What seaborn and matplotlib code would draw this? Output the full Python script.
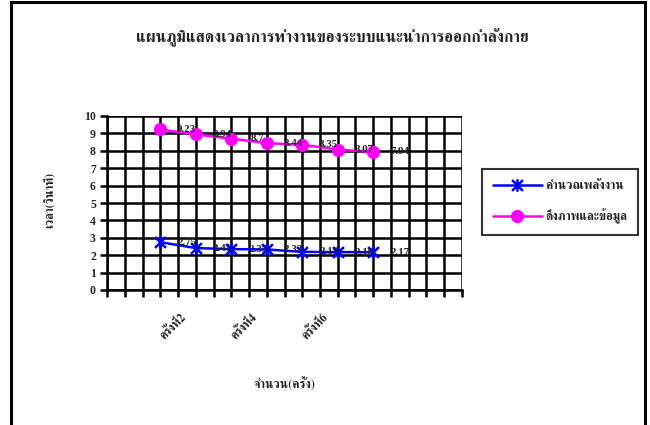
import numpy as np
import pandas as pd
import matplotlib
matplotlib.use("Agg")
import matplotlib.pyplot as plt
import seaborn as sns
from matplotlib import font_manager as fm
from matplotlib.patches import Rectangle
from matplotlib.path import Path

# ---------------- data ----------------
title = "แผนภูมิแสดงเวลาการทำงานของระบบแนะนำการออกกำลังกาย"
x_label = "จำนวน(ครั้ง)"
y_label = "เวลา(วินาที)"
categories = ["", "ครั้งที่1", "ครั้งที่2", "ครั้งที่3", "ครั้งที่4", "ครั้งที่5",
              "ครั้งที่6", "ครั้งที่7", "", ""]
shown_labels = ["ครั้งที่2", "ครั้งที่4", "ครั้งที่6"]
run_index = [1, 2, 3, 4, 5, 6, 7]
series_names = ["คำนวณพลังงาน", "ดึงภาพและข้อมูล"]
calc_energy = [2.75, 2.41, 2.35, 2.33, 2.19, 2.18, 2.17]
fetch_data = [9.23, 8.94, 8.7, 8.44, 8.35, 8.07, 7.94]
y_ticks = [0, 1, 2, 3, 4, 5, 6, 7, 8, 9, 10]

# ---------------- fonts ----------------
def find_thai_fonts():
    names = []
    try:
        from fontTools.ttLib import TTFont
    except Exception:
        return names
    for fe in fm.fontManager.ttflist:
        try:
            f = TTFont(fe.fname, fontNumber=0, lazy=True)
            cmap = f.getBestCmap() or {}
            if 0x0E01 in cmap and fe.name not in names:
                names.append(fe.name)
        except Exception:
            pass
    return names

sns.set_theme(style="white")
thai = find_thai_fonts()
serif_first = [n for n in thai if "Serif" in n] + [n for n in thai if "Serif" not in n]
families = serif_first + ["Liberation Serif", "DejaVu Serif", "DejaVu Sans"]
plt.rcParams["font.family"] = families
num_family = ["Liberation Serif", "DejaVu Serif"]

# Excel-style star marker: an X with a vertical stroke
star = Path([(-1, -1), (1, 1), (-1, 1), (1, -1), (0, -1.15), (0, 1.15)],
            [Path.MOVETO, Path.LINETO, Path.MOVETO, Path.LINETO, Path.MOVETO, Path.LINETO])

df = pd.DataFrame({
    "x": run_index * 2,
    "value": calc_energy + fetch_data,
    "series": [series_names[0]] * len(run_index) + [series_names[1]] * len(run_index),
})

fig = plt.figure(figsize=(6.5, 4.25), dpi=100)
ax = fig.add_axes([107 / 650, 1 - 290 / 425, 355 / 650, 174 / 425])

styles = {
    series_names[0]: dict(color="#0000FF", marker=star, markersize=9,
                          markeredgecolor="#0000FF", markerfacecolor="none",
                          markeredgewidth=1.8),
    series_names[1]: dict(color="#FF00FF", marker="o", markersize=8.5,
                          markeredgecolor="#FF00FF", markeredgewidth=1.0),
}
for name in series_names:
    sub = df[df["series"] == name]
    sns.lineplot(data=sub, x="x", y="value", ax=ax, label=name, linewidth=1.8,
                 **styles[name])
    for xv, yv in zip(sub["x"], sub["value"]):
        ax.annotate(f"{yv:g}", (xv, yv), xytext=(19, 0), textcoords="offset points",
                    ha="center", va="center", fontsize=7.8, fontweight="bold",
                    family=num_family, color="#222222")

ax.set_xlim(-0.5, len(categories) - 0.5)
ax.set_ylim(0, 10)
half_ticks = np.arange(-0.5, len(categories) - 0.5 + 0.01, 0.5)
ax.set_xticks(half_ticks)
ax.set_xticklabels([])
ax.set_yticks(y_ticks)
ax.set_yticklabels([str(v) for v in y_ticks], fontsize=8.5, fontweight="bold",
                   family=num_family)
ax.grid(True, color="black", linewidth=1.8)
ax.set_axisbelow(True)
for sp in ax.spines.values():
    sp.set_visible(False)
for side in ("left", "bottom"):
    ax.spines[side].set_visible(True)
    ax.spines[side].set_linewidth(1.8)
    ax.spines[side].set_color("black")
ax.tick_params(axis="both", which="both", direction="out", length=5, width=1.8,
               color="black", pad=3, left=True, bottom=True)
ax.set_xlabel("")
ax.set_ylabel("")

# category labels, every second one
for lab in shown_labels:
    pos = categories.index(lab)
    ax.text(pos - 0.45, -1.25, lab, rotation=45, ha="right", va="top",
            rotation_mode="anchor", fontsize=8.5, fontweight="bold",
            transform=ax.transData, clip_on=False)

ax.get_legend().remove()
handles, labels = ax.get_legend_handles_labels()
leg = fig.legend(handles, labels, loc="center", bbox_to_anchor=(560 / 650, 1 - 202 / 425),
                 handlelength=4.0, handletextpad=0.3, labelspacing=1.3,
                 borderpad=0.9, frameon=True, fancybox=False,
                 prop={"weight": "bold", "size": 8.8})
leg.get_frame().set_edgecolor("black")
leg.get_frame().set_linewidth(1.5)

fig.text(332 / 650, 1 - 38 / 425, title, ha="center", va="center", fontsize=11.3,
         fontweight="bold")
fig.text(50 / 650, 1 - 200 / 425, y_label, ha="center", va="center", rotation=90,
         fontsize=8.5, fontweight="bold")
fig.text(285 / 650, 1 - 385 / 425, x_label, ha="center", va="center", fontsize=8.8,
         fontweight="bold")

border = Rectangle((11 / 650, -0.1), (645 - 11) / 650, 1.1 - 2 / 425,
                   transform=fig.transFigure, fill=False, edgecolor="black",
                   linewidth=2.2, clip_on=False)
fig.patches.append(border)

fig.savefig("out.png", dpi=100, facecolor="white")
